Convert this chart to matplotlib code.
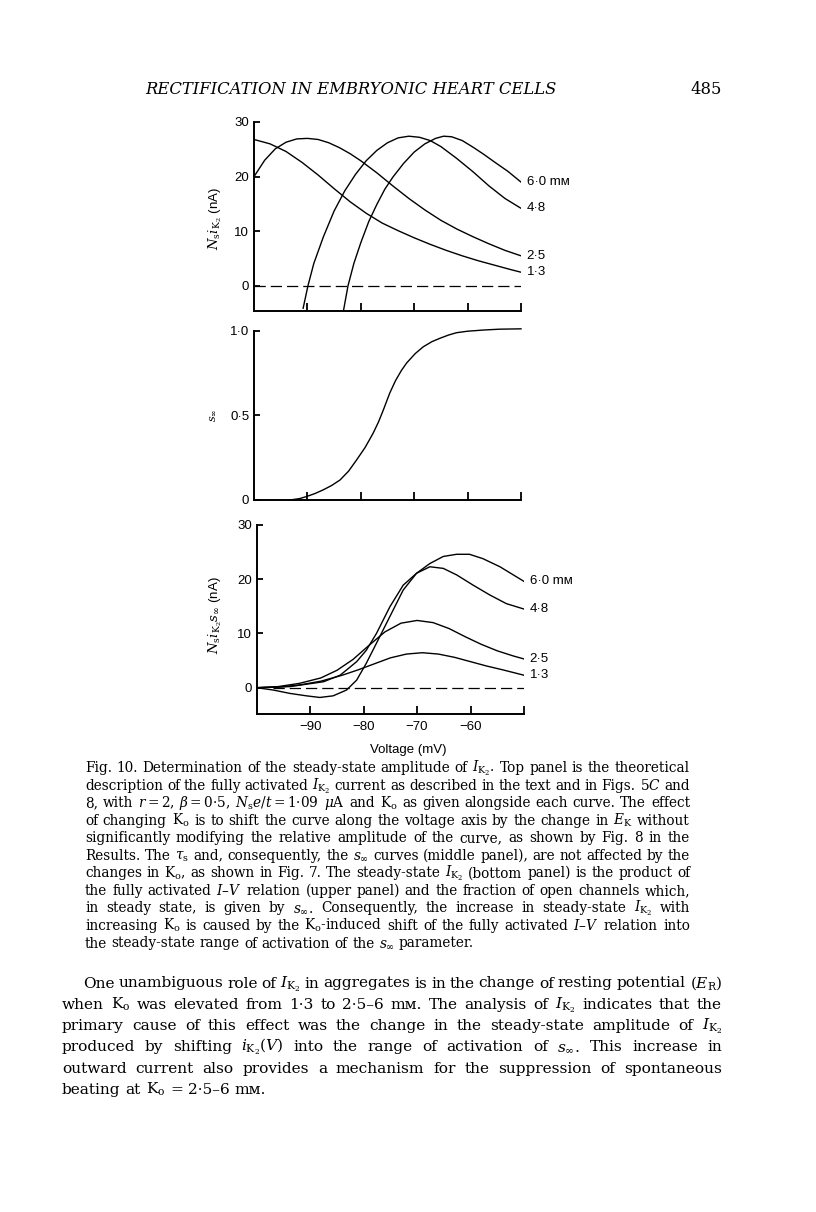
import numpy as np
import matplotlib
matplotlib.use('Agg')
import matplotlib.pyplot as plt
from matplotlib.ticker import FixedFormatter

plt.rcParams['font.family'] = ['Liberation Sans', 'DejaVu Sans']
plt.rcParams['mathtext.fontset'] = 'dejavuserif'

W, H = 816, 1212
SERIF = ['DejaVu Serif', 'DejaVu Sans']

# ---- values (voltage in mV) ----
# top panel: fully activated current Ns iK2 (nA)
v_full_13 = [-100, -97, -94, -91, -88, -85, -82, -79, -76, -73, -70, -67, -64, -61, -58, -55, -52, -50]
i_full_13 = [26.8, 26.0, 24.6, 22.6, 20.3, 17.8, 15.4, 13.3, 11.5, 10.1, 8.8, 7.6, 6.5, 5.5, 4.6, 3.8, 3.0, 2.5]
v_full_25 = [-100, -98, -96, -94, -92, -90, -88, -86, -84, -82, -80, -77, -74, -71, -68, -65, -62, -59, -56, -53, -50]
i_full_25 = [20.0, 23.0, 25.1, 26.3, 26.9, 27.0, 26.8, 26.2, 25.3, 24.2, 22.9, 20.7, 18.3, 16.0, 13.9, 12.0, 10.4, 9.0, 7.7, 6.5, 5.5]
v_full_48 = [-90.8, -89.9, -88.8, -87, -85, -83, -81, -79, -77, -75, -73, -71, -69, -67, -65, -62, -59, -56, -53, -50]
i_full_48 = [-4.1, 0.0, 4.1, 9.0, 13.7, 17.4, 20.4, 22.9, 24.8, 26.2, 27.1, 27.4, 27.2, 26.6, 25.5, 23.3, 20.9, 18.3, 16.0, 14.2]
v_full_60 = [-83.2, -82.4, -81.3, -80, -78.5, -77, -75.5, -74, -72, -70, -68, -66, -64.5, -63, -61, -59, -57, -55, -52.5, -50]
i_full_60 = [-4.3, 0.0, 4.1, 7.9, 11.8, 14.9, 17.7, 19.9, 22.4, 24.5, 26.0, 27.0, 27.4, 27.3, 26.6, 25.4, 24.1, 22.7, 21.0, 19.0]

# middle panel: s_inf
v_sinf = [-93.3, -91.5, -90.2, -88.6, -87.1, -85.5, -83.9, -82.3, -80.8, -79.2, -77.7, -76.7, -75.8, -74.6,
          -73.5, -72.4, -71.4, -69.8, -68.3, -66.7, -65.2, -63.6, -62.1, -60, -57, -54, -50]
s_inf = [0.0, 0.008, 0.02, 0.038, 0.059, 0.085, 0.118, 0.17, 0.236, 0.31, 0.394, 0.46, 0.53, 0.63,
         0.705, 0.765, 0.81, 0.865, 0.905, 0.935, 0.955, 0.974, 0.988, 0.997, 1.004, 1.009, 1.011]

# bottom panel: steady-state current Ns iK2 s_inf (nA)
v_ss_13 = [-100, -96, -92, -88, -84, -81, -78, -75, -72, -69, -66, -63, -60, -57, -54, -50]
i_ss_13 = [0.0, 0.1, 0.5, 1.2, 2.3, 3.3, 4.4, 5.5, 6.2, 6.45, 6.2, 5.6, 4.8, 4.0, 3.3, 2.3]
v_ss_25 = [-100, -96, -92, -88, -85, -82, -79, -76, -73, -70, -67, -64, -61, -58, -55, -52, -50]
i_ss_25 = [0.0, 0.2, 0.8, 1.8, 3.2, 5.2, 7.8, 10.3, 11.9, 12.4, 12.0, 10.9, 9.4, 8.0, 6.8, 5.85, 5.3]
v_ss_48 = [-100, -93.8, -87.5, -84.4, -81.3, -79.5, -77.6, -75.1, -72.6, -70.1, -67.6, -65.1, -62.6, -59.5, -56.4, -53.3, -50]
i_ss_48 = [0.0, 0.2, 1.1, 2.3, 4.8, 6.9, 10.0, 14.9, 18.9, 21.1, 22.3, 22.0, 20.8, 18.9, 17.1, 15.5, 14.5]
v_ss_60 = [-100, -96.9, -93.8, -90.7, -88.2, -85.7, -83.2, -81.3, -79.5, -77.6, -75.1, -72.6, -70.1, -67.6, -65.1, -62.6, -60.2, -57.7, -54.5, -50]
i_ss_60 = [0.0, -0.43, -1.05, -1.5, -1.8, -1.5, -0.43, 1.4, 4.5, 8.2, 13.1, 18.0, 21.1, 22.9, 24.2, 24.6, 24.6, 23.8, 22.3, 19.6]

curve_labels = ['1·3', '2·5', '4·8', '6·0 mᴍ']
x_ticks = [-90, -80, -70, -60, -50]
x_ticklabels = ['−90', '−80', '−70', '−60', '']

CAPTION = [
    r"Fig. 10. Determination of the steady-state amplitude of $I_{\mathrm{K}_2}$. Top panel is the theoretical",
    r"description of the fully activated $I_{\mathrm{K}_2}$ current as described in the text and in Figs. 5$C$ and",
    r"8, with $r=2$, $\beta=0$·5, $N_{\mathrm{s}}e/t=1$·09 $\mu$A and K$_{\mathrm{o}}$ as given alongside each curve. The effect",
    r"of changing K$_{\mathrm{o}}$ is to shift the curve along the voltage axis by the change in $E_{\mathrm{K}}$ without",
    r"significantly modifying the relative amplitude of the curve, as shown by Fig. 8 in the",
    r"Results. The $\tau_{\mathrm{s}}$ and, consequently, the $s_{\infty}$ curves (middle panel), are not affected by the",
    r"changes in K$_{\mathrm{o}}$, as shown in Fig. 7. The steady-state $I_{\mathrm{K}_2}$ (bottom panel) is the product of",
    r"the fully activated $I$–$V$ relation (upper panel) and the fraction of open channels which,",
    r"in steady state, is given by $s_{\infty}$. Consequently, the increase in steady-state $I_{\mathrm{K}_2}$ with",
    r"increasing K$_{\mathrm{o}}$ is caused by the K$_{\mathrm{o}}$-induced shift of the fully activated $I$–$V$ relation into",
    r"the steady-state range of activation of the $s_{\infty}$ parameter.",
]
BODY = [
    r"One unambiguous role of $I_{\mathrm{K}_2}$ in aggregates is in the change of resting potential ($E_{\mathrm{R}}$)",
    r"when K$_{\mathrm{o}}$ was elevated from 1·3 to 2·5–6 mᴍ. The analysis of $I_{\mathrm{K}_2}$ indicates that the",
    r"primary cause of this effect was the change in the steady-state amplitude of $I_{\mathrm{K}_2}$",
    r"produced by shifting $i_{\mathrm{K}_2}(V)$ into the range of activation of $s_{\infty}$. This increase in",
    r"outward current also provides a mechanism for the suppression of spontaneous",
    r"beating at K$_{\mathrm{o}}$ = 2·5–6 mᴍ.",
]

fig = plt.figure(figsize=(W / 100, H / 100), dpi=100)
fig.patch.set_facecolor('white')


def make_axes(left, top, right, bottom):
    ax = fig.add_axes([left / W, 1 - bottom / H, (right - left) / W, (bottom - top) / H])
    ax.spines['top'].set_visible(False)
    ax.spines['right'].set_visible(False)
    ax.spines['left'].set_linewidth(1.4)
    ax.spines['bottom'].set_linewidth(1.4)
    ax.set_xlim(-100, -50)
    ax.set_xticks(x_ticks)
    ax.set_xticklabels(x_ticklabels)
    ax.tick_params(axis='x', direction='in', length=6, width=1.3, pad=5, labelsize=9.5)
    ax.tick_params(axis='y', direction='in', length=4, width=1.3, pad=3.5, labelsize=9.5)
    ax.patch.set_alpha(0)
    return ax


def curves(ax, series):
    for (v, i), lab in zip(series, curve_labels):
        ax.plot(v, i, color='black', lw=1.0)
        ax.annotate(lab, xy=(v[-1], i[-1]), xytext=(4, 0), textcoords='offset points',
                    ha='left', va='center', fontsize=9.5, annotation_clip=False)


# top panel
ax1 = make_axes(254, 122, 521, 311)
ax1.set_ylim(-4.6, 30)
ax1.set_yticks([0, 10, 20, 30])
ax1.tick_params(axis='x', labelbottom=False)
ax1.plot([-100, -50], [0, 0], color='black', lw=0.9, dashes=(9, 4))
curves(ax1, [(v_full_13, i_full_13), (v_full_25, i_full_25),
             (v_full_48, i_full_48), (v_full_60, i_full_60)])

# middle panel
ax2 = make_axes(254, 330.7, 521, 500)
ax2.set_ylim(0, 1.0)
ax2.set_yticks([0, 0.5, 1.0])
ax2.yaxis.set_major_formatter(FixedFormatter(['0', '0·5', '1·0']))
ax2.tick_params(axis='x', labelbottom=False)
ax2.plot(v_sinf, s_inf, color='black', lw=1.0, clip_on=False)

# bottom panel
ax3 = make_axes(256.7, 525, 524, 714)
ax3.set_ylim(-4.85, 30)
ax3.set_yticks([0, 10, 20, 30])
ax3.plot([-97, -50], [0, 0], color='black', lw=0.9, dashes=(9, 4))
curves(ax3, [(v_ss_13, i_ss_13), (v_ss_25, i_ss_25),
             (v_ss_48, i_ss_48), (v_ss_60, i_ss_60)])

# axis labels
fig.text(215 / W, 1 - 219 / H, r'$N_{\mathrm{s}}i_{\mathrm{K}_2}$ (nA)', rotation=90,
         ha='center', va='center', fontsize=9.5)
fig.text(213 / W, 1 - 415 / H, r'$s_{\infty}$', rotation=90, ha='center', va='center', fontsize=8)
fig.text(215 / W, 1 - 615 / H, r'$N_{\mathrm{s}}i_{\mathrm{K}_2}s_{\infty}$ (nA)', rotation=90,
         ha='center', va='center', fontsize=9.5)
fig.text(408 / W, 1 - 750 / H, 'Voltage (mV)', ha='center', va='center', fontsize=9.5)

renderer = fig.canvas.get_renderer()
SPACE = 0.318 * 100 / 72  # DejaVu Serif space, px per pt


def text_width(s, size, **kw):
    t = fig.text(0, 0, s, family=SERIF, fontsize=size, **kw)
    w = t.get_window_extent(renderer).width
    t.remove()
    return w


def line_width(line, size, space=1.0):
    words = line.split(' ')
    return sum(text_width(w, size) for w in words) + (len(words) - 1) * space * SPACE * size


def fit_size(lines, widths, base=10.0):
    # last line is ragged, so only the justified ones set the size
    fill = [line_width(l, base) / w for l, w in zip(lines[:-1], widths[:-1])]
    tight = [line_width(l, base, 0.7) / w for l, w in zip(lines[:-1], widths[:-1])]
    ratio = min(0.99 / np.mean(fill), 1.0 / max(tight))
    return base * ratio


def put_line(line, x0, x1, y, size, justify=True):
    words = line.split(' ')
    items = [fig.text(0, 1 - y / H, w, family=SERIF, fontsize=size, va='baseline') for w in words]
    widths = [t.get_window_extent(renderer).width for t in items]
    if justify and len(words) > 1:
        gap = (x1 - x0 - sum(widths)) / (len(words) - 1)
    else:
        gap = SPACE * size
    x = x0
    for t, w in zip(items, widths):
        t.set_x(x / W)
        x += w + gap


# page header
title = 'RECTIFICATION IN EMBRYONIC HEART CELLS'
head_size = 10.0 * 410 / text_width(title, 10.0, style='italic')
fig.text(145 / W, 1 - 94 / H, title, family=SERIF, style='italic', fontsize=head_size, va='baseline')
fig.text(722 / W, 1 - 94 / H, '485', family=SERIF, fontsize=head_size, va='baseline', ha='right')

# figure legend
cap_left, cap_right = 85, 690
cap_size = fit_size(CAPTION, [cap_right - cap_left] * len(CAPTION))
for k, line in enumerate(CAPTION):
    put_line(line, cap_left, cap_right, 772 + 17.55 * k, cap_size, justify=(k < len(CAPTION) - 1))

# running text
body_left = [83] + [62] * (len(BODY) - 1)
body_right = 722
body_size = fit_size(BODY, [body_right - x for x in body_left])
for k, line in enumerate(BODY):
    last = k == len(BODY) - 1
    put_line(line, body_left[k], body_right, 987.5 + 21.3 * k, body_size, justify=not last)

fig.savefig('out.png', dpi=100, facecolor='white')
